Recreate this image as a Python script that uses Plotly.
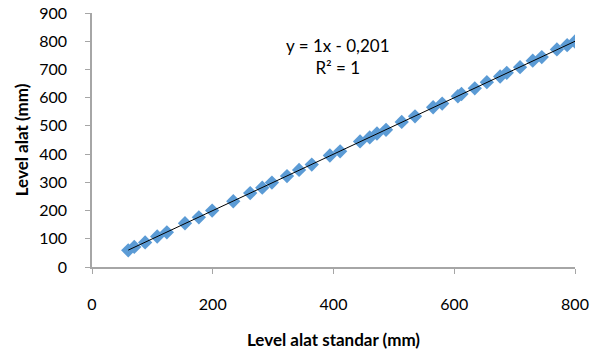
import plotly.graph_objects as go

x_std = [60, 70, 88, 108, 124, 154, 177, 199, 234, 262, 282, 298, 323, 343, 364,
         394, 411, 444, 460, 472, 487, 513, 535, 565, 580, 606, 612, 634, 654, 676,
         687, 709, 730, 745, 770, 787, 800]
y_alat = [59, 71, 87, 108, 123, 155, 176, 200, 233, 262, 281, 299, 322, 344, 363,
          395, 410, 445, 459, 473, 486, 514, 534, 566, 579, 605, 613, 633, 655, 675,
          688, 708, 731, 744, 771, 786, 799]
slope = 1.0
intercept = -0.201
x_ticks = [0, 200, 400, 600, 800]
y_ticks = [0, 100, 200, 300, 400, 500, 600, 700, 800, 900]

font = "Lato, Carlito, 'Open Sans', sans-serif"
fig = go.Figure()
fig.add_trace(go.Scatter(
    x=x_std, y=y_alat, mode="markers",
    marker=dict(symbol="diamond", size=11, color="#5B9BD5", line=dict(width=0)),
    showlegend=False))
xl = [min(x_std), max(x_std)]
fig.add_trace(go.Scatter(
    x=xl, y=[slope * v + intercept for v in xl], mode="lines",
    line=dict(color="#000000", width=1), showlegend=False))

fig.add_annotation(x=0.51, y=0.92, xref="paper", yref="paper",
                   text="y = 1x - 0,201<br>R² = 1", showarrow=False,
                   font=dict(family=font, size=17, color="#000"), align="center")

fig.update_layout(
    width=600, height=354,
    margin=dict(l=92, r=25, t=13, b=87),
    paper_bgcolor="white", plot_bgcolor="white",
    font=dict(family=font, size=16, color="#000"),
    xaxis=dict(range=[0, 800], tickvals=x_ticks, showgrid=False, zeroline=False,
               showline=True, linecolor="#A6A6A6", linewidth=1.5,
               ticks="outside", ticklen=5, tickcolor="#A6A6A6",
               ticklabelstandoff=17, automargin=False,
               title=dict(text="<b>Level alat standar (mm)</b>", standoff=22,
                          font=dict(size=17))),
    yaxis=dict(range=[0, 900], tickvals=y_ticks, showgrid=False, zeroline=False,
               showline=True, linecolor="#A6A6A6", linewidth=1.5,
               ticks="outside", ticklen=5, tickcolor="#A6A6A6",
               ticklabelstandoff=15, automargin=False,
               title=dict(text="<b>Level alat (mm)</b>", standoff=6,
                          font=dict(size=17))),
)
fig.write_html("out.html")
